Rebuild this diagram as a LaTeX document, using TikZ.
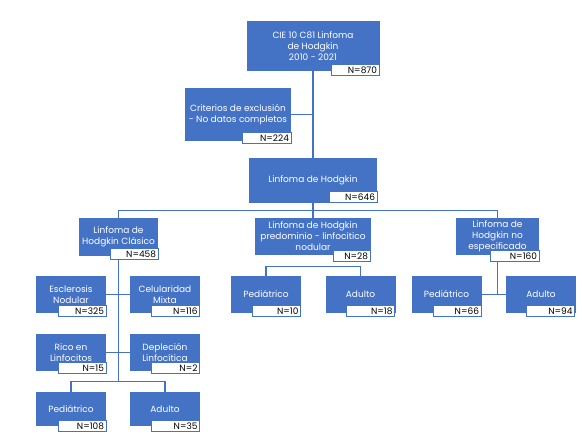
\documentclass[tikz,border=0pt]{standalone}
\usepackage{fontspec}
\setmainfont{Poppins}
\definecolor{azul}{RGB}{68,114,196}
\begin{document}
\begin{tikzpicture}[x=1pt,y=-1pt,
  caja/.style={fill=azul,text=white,align=center,inner sep=0pt,font=\fontsize{9}{11}\selectfont},
  ncaja/.style={fill=white,draw=azul,line width=1pt,minimum height=11pt,text width=#1,align=right,inner xsep=2pt,inner ysep=0pt,font=\fontsize{9}{9}\selectfont},
  ncaja/.default=44pt,
  linea/.style={draw=azul,line width=1.1pt}]
\useasboundingbox (0,0) rectangle (582,435);
\path node[caja,minimum width=133pt,minimum height=50pt] (CIE) at (313,46) {CIE 10 C81 Linfoma\\de Hodgkin\\2010 - 2021}
node[ncaja] (CIEn) at (355,70) {N=870}
node[caja,minimum width=106pt,minimum height=53pt] (EXC) at (238,114.5) {Criterios de exclusión\\- No datos completos}
node[ncaja=45pt] (EXCn) at (266.5,138.5) {N=224}
node[caja,minimum width=128pt,minimum height=45pt] (LH) at (313,180.5) {Linfoma de Hodgkin}
node[ncaja] (LHn) at (353,197) {N=646}
node[caja,minimum width=79pt,minimum height=38pt] (LHC) at (118.5,237) {Linfoma de\\Hodgkin Clásico}
node[ncaja] (LHCn) at (134,254.5) {N=458}
node[caja,minimum width=116pt,minimum height=37pt] (LHP) at (313,236.5) {Linfoma de Hodgkin\\predominio - linfocitico\\nodular}
node[ncaja=33pt] (LHPn) at (351.5,256.5) {N=28}
node[caja,minimum width=83pt,minimum height=37pt] (LHN) at (497.5,236.5) {Linfoma de\\Hodgkin no\\especificado}
node[ncaja=45pt] (LHNn) at (514.5,256.5) {N=160}
node[caja,minimum width=70pt,minimum height=37pt] (ESC) at (71,294.5) {Esclerosis\\Nodular}
node[ncaja] (ESCn) at (82,311) {N=325}
node[caja,minimum width=70pt,minimum height=37pt] (CEL) at (165,294.5) {Celularidad\\Mixta}
node[ncaja] (CELn) at (175.5,311) {N=116}
node[caja,minimum width=70pt,minimum height=37pt] (RIC) at (71,352.5) {Rico en\\Linfocitos}
node[ncaja] (RICn) at (82,368) {N=15}
node[caja,minimum width=70pt,minimum height=37pt] (DEP) at (165,352.5) {Depleción\\Linfocítica}
node[ncaja] (DEPn) at (175.5,368) {N=2}
node[caja,minimum width=70pt,minimum height=34pt] (PED1) at (71,409) {Pediátrico}
node[ncaja] (PED1n) at (82,426.5) {N=108}
node[caja,minimum width=70pt,minimum height=34pt] (ADU1) at (165,409) {Adulto}
node[ncaja] (ADU1n) at (175.5,426.5) {N=35}
node[caja,minimum width=70pt,minimum height=37pt] (PED2) at (266,294.5) {Pediátrico}
node[ncaja] (PED2n) at (276.5,311) {N=10}
node[caja,minimum width=70pt,minimum height=37pt] (ADU2) at (360.5,294.5) {Adulto}
node[ncaja] (ADU2n) at (370.5,311) {N=18}
node[caja,minimum width=70pt,minimum height=37pt] (PED3) at (446.5,294.5) {Pediátrico}
node[ncaja] (PED3n) at (457,311) {N=66}
node[caja,minimum width=70pt,minimum height=37pt] (ADU3) at (541,294.5) {Adulto}
node[ncaja] (ADU3n) at (550.5,311) {N=94}
;
\draw[linea] (CIE.south) -- (LH.north);
\draw[linea] (EXC.east) -- (EXC.east -| LH.north);
\draw[linea] (LH.south) -- (LHP.north);
\draw[linea] (LHC.north) -- ++(0,-7.5) -| (LHN.north);
\draw[linea] (PED1.north) -- ++(0,-10) coordinate (BL) -| (ADU1.north);
\draw[linea] (LHCn.south -| LHC.south) -- (BL -| LHC.south);
\draw[linea] (ESC.east) -- (CEL.west);
\draw[linea] (RIC.east) -- (DEP.west);
\draw[linea] (PED2.north) -- ++(0,-9) -| (ADU2.north);
\draw[linea] (PED3.east) -- (ADU3.west);
\draw[linea] (LHNn.south -| LHN.south) -- (LHN.south |- PED3.east);
\end{tikzpicture}
\end{document}
